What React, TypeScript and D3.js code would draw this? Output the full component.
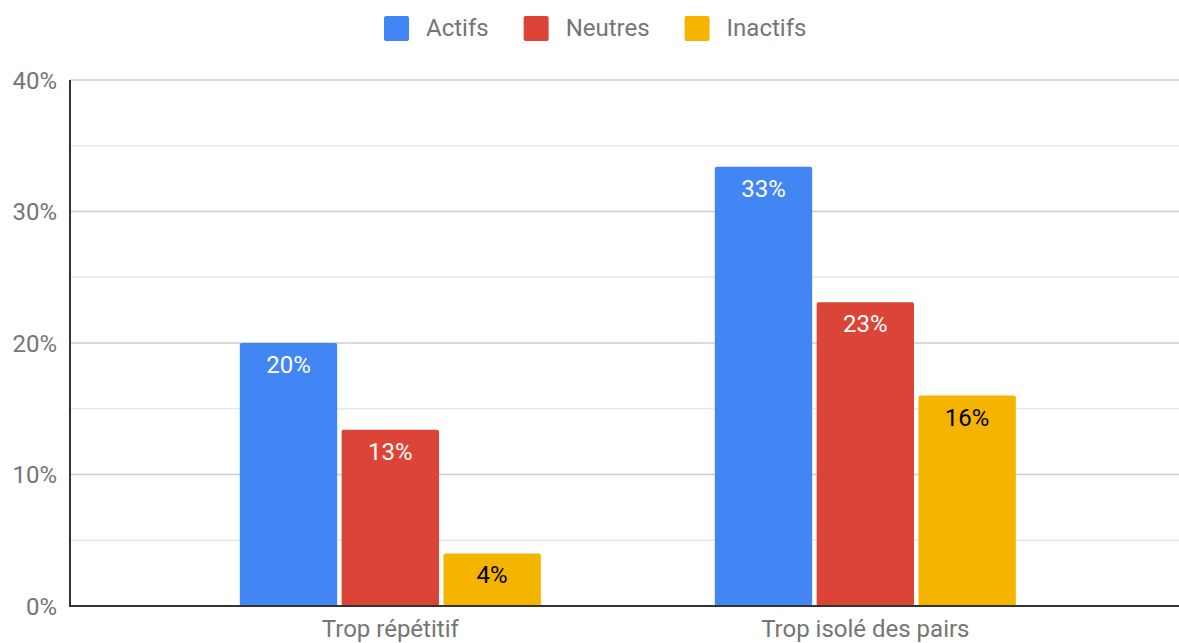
import React from "react";
import * as d3 from "d3";

// categories / series
const categories = ["Trop répétitif", "Trop isolé des pairs"];
const seriesNames = ["Actifs", "Neutres", "Inactifs"];
const seriesColors = ["#4285f4", "#db4437", "#f4b400"];
const labelColors = ["#ffffff", "#ffffff", "#000000"];

// values per series, one per category
const actifs = [0.2, 0.334];
const neutres = [0.134, 0.231];
const inactifs = [0.04, 0.16];
const seriesValues = [actifs, neutres, inactifs];

const yTicks = [0, 0.1, 0.2, 0.3, 0.4];
const yMinorTicks = [0.05, 0.15, 0.25, 0.35];

const W = 1179;
const H = 643;
const FONT = "Roboto, 'Noto Sans', sans-serif";

const measure = (txt: string, size: number) => {
  const ctx = document.createElement("canvas").getContext("2d");
  if (!ctx) return txt.length * size * 0.5;
  ctx.font = `${size}px Roboto`;
  return ctx.measureText(txt).width;
};

const App: React.FC = () => {
  const margin = { top: 80, right: 0, bottom: 37, left: 70 };

  const y = d3.scaleLinear().domain([0, 0.4]).range([H - margin.bottom, margin.top]);
  const x0 = d3
    .scaleBand<string>()
    .domain(categories)
    .range([margin.left, W - margin.right])
    .paddingInner(0.3663)
    .paddingOuter(0.3505)
    .align(0.51);
  const x1 = d3
    .scaleBand<string>()
    .domain(seriesNames)
    .range([0, x0.bandwidth()])
    .paddingInner(0.044);

  const fmt = d3.format(".0%");

  // legend layout
  let lx = 384;
  const legendItems = seriesNames.map((name, i) => {
    const item = { name, color: seriesColors[i], x: lx };
    lx += 25 + 17 + measure(name, 24) + 35;
    return item;
  });

  return (
    <div style={{ position: "absolute", left: 0, top: 0 }}>
      <svg width={W} height={H} style={{ display: "block", background: "#fff" }} fontFamily={FONT}>
        {/* legend */}
        {legendItems.map((d) => (
          <g key={d.name}>
            <rect x={d.x} y={16} width={25} height={25} rx={2} fill={d.color} />
            <text x={d.x + 42} y={36} fontSize={24} fill="#757575">
              {d.name}
            </text>
          </g>
        ))}

        {/* minor gridlines */}
        {yMinorTicks.map((t) => (
          <line key={"m" + t} x1={margin.left} x2={W} y1={y(t)} y2={y(t)} stroke="#e8e8e8" strokeWidth={1.5} />
        ))}
        {/* major gridlines + labels */}
        {yTicks.map((t) => (
          <g key={"t" + t}>
            {t > 0 && (
              <line x1={margin.left} x2={W} y1={y(t)} y2={y(t)} stroke="#cccccc" strokeWidth={1.5} />
            )}
            <text x={57} y={y(t)} dy="0.36em" textAnchor="end" fontSize={24} fill="#757575">
              {fmt(t)}
            </text>
          </g>
        ))}

        {/* bars */}
        {categories.map((cat, ci) => (
          <g key={cat} transform={`translate(${x0(cat)},0)`}>
            {seriesNames.map((s, si) => {
              const v = seriesValues[si][ci];
              const bx = x1(s) ?? 0;
              const by = y(v);
              return (
                <g key={s}>
                  <rect
                    x={bx}
                    y={by}
                    width={x1.bandwidth()}
                    height={y(0) - by}
                    rx={2}
                    fill={seriesColors[si]}
                  />
                  <text
                    x={bx + x1.bandwidth() / 2}
                    y={by + 30}
                    textAnchor="middle"
                    fontSize={24}
                    fill={labelColors[si]}
                  >
                    {fmt(v)}
                  </text>
                </g>
              );
            })}
            <text
              x={x0.bandwidth() / 2}
              y={H - 6}
              textAnchor="middle"
              fontSize={24}
              fill="#757575"
            >
              {cat}
            </text>
          </g>
        ))}

        {/* axes */}
        <line x1={margin.left} x2={margin.left} y1={y(0.4)} y2={y(0) + 1} stroke="#333" strokeWidth={2} />
        <line x1={margin.left} x2={W} y1={y(0)} y2={y(0)} stroke="#333" strokeWidth={2} />
      </svg>
    </div>
  );
};

export default App;
